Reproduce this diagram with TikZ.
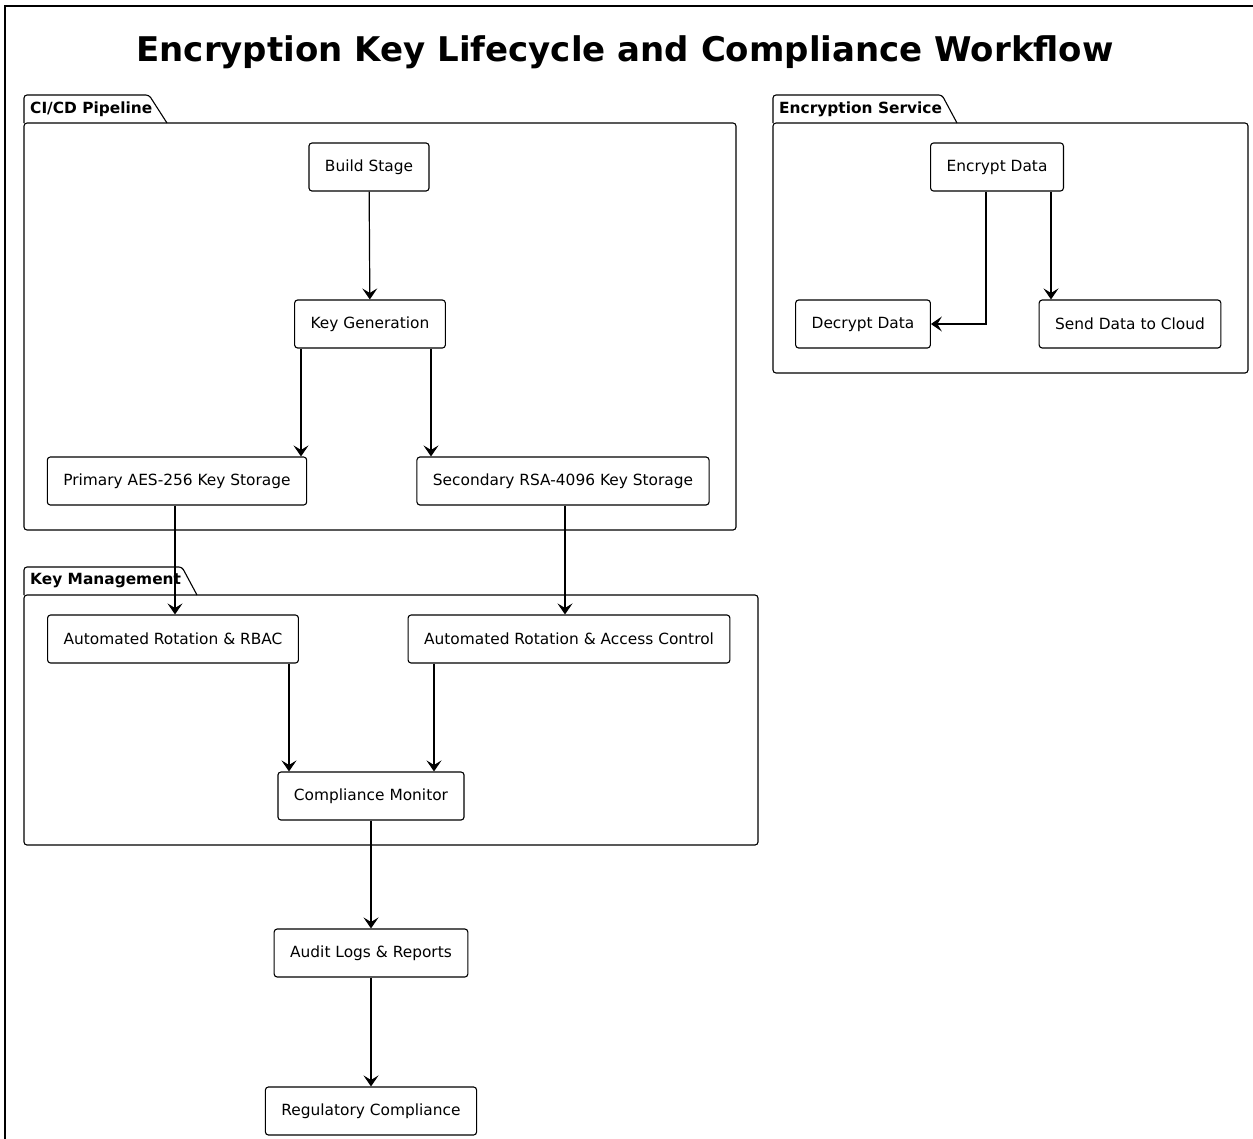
\documentclass[tikz,border=0pt]{standalone}
\usepackage{fontspec}
\setmainfont{DejaVu Sans}
\usetikzlibrary{arrows.meta, positioning, calc}

\begin{document}
\begin{tikzpicture}[x=1pt,y=-1pt,
		box/.style={rectangle,draw,rounded corners=3pt,line width=1.1pt,minimum height=48pt,inner xsep=16pt,font=\fontsize{15.4}{18}\selectfont},
		flow/.style={line width=1.2pt,-{Stealth[length=11pt,width=15pt,inset=4.5pt]}},
		pkg/.style={line width=1.1pt,rounded corners=3pt},
		pkglabel/.style={anchor=west,inner sep=0pt,font=\bfseries\fontsize{15.4}{18}\selectfont}]
		\useasboundingbox (0,0) rectangle (1253,1138);
		\clip (0,0) rectangle (1253,1138);
		
		% outer frame and title
		\draw[line width=1.8pt] (5,1160) -- (5,6) -- (1270,6);
		\node(title) at (625,52)[font=\bfseries\fontsize{34}{40}\selectfont]{Encryption Key Lifecycle and Compliance Workflow};
		
		% packages
		\draw[pkg] (24,123) -- (24,95) -- (149,95) -- (167,123);
		\draw[pkg] (24,123) rectangle (736,530);
		\node(cicd) at (30,109)[pkglabel]{CI/CD Pipeline};
		\draw[pkg] (24,595) -- (24,567) -- (182,567) -- (197,595);
		\draw[pkg] (24,595) rectangle (758,845);
		\node(keymgmt) at (30,581)[pkglabel]{Key Management};
		\draw[pkg] (773,123) -- (773,95) -- (942,95) -- (957,123);
		\draw[pkg] (773,123) rectangle (1248,373);
		\node(encsvc) at (779,109)[pkglabel]{Encryption Service};
		
		% nodes
		\node(build) at (369,167)[box]{Build Stage};
		\node(keygen) at (370,324)[box]{Key Generation};
		\node(aes) at (177,481)[box]{Primary AES-256 Key Storage};
		\node(rsa) at (563,481)[box]{Secondary RSA-4096 Key Storage};
		\node(rbac) at (173,639)[box]{Automated Rotation \& RBAC};
		\node(access) at (569,639)[box]{Automated Rotation \& Access Control};
		\node(monitor) at (371,796)[box]{Compliance Monitor};
		\node(audit) at (371,953)[box]{Audit Logs \& Reports};
		\node(regul) at (371,1111)[box]{Regulatory Compliance};
		\node(encrypt) at (997,167)[box]{Encrypt Data};
		\node(decrypt) at (863,324)[box]{Decrypt Data};
		\node(send) at (1130,324)[box]{Send Data to Cloud};
		
		% connectors
		\draw[flow] (build) to (keygen);
		\draw[flow] ([xshift=-69pt]keygen.south) to ([xshift=-69pt]keygen.south |- aes.north);
		\draw[flow] ([xshift=61pt]keygen.south) to ([xshift=61pt]keygen.south |- rsa.north);
		\draw[flow] ([xshift=-2pt]aes.south) to ([xshift=-2pt]aes.south |- rbac.north);
		\draw[flow] ([xshift=2pt]rsa.south) to ([xshift=2pt]rsa.south |- access.north);
		\draw[flow] ([xshift=116pt]rbac.south) to ([xshift=116pt]rbac.south |- monitor.north);
		\draw[flow] ([xshift=-135pt]access.south) to ([xshift=-135pt]access.south |- monitor.north);
		\draw[flow] (monitor) to (audit);
		\draw[flow] (audit) to (regul);
		\draw[flow] ([xshift=-11pt]encrypt.south) |- (decrypt.east);
		\draw[flow] ([xshift=54pt]encrypt.south) to ([xshift=54pt]encrypt.south |- send.north);
		
	\end{tikzpicture}
\end{document}
